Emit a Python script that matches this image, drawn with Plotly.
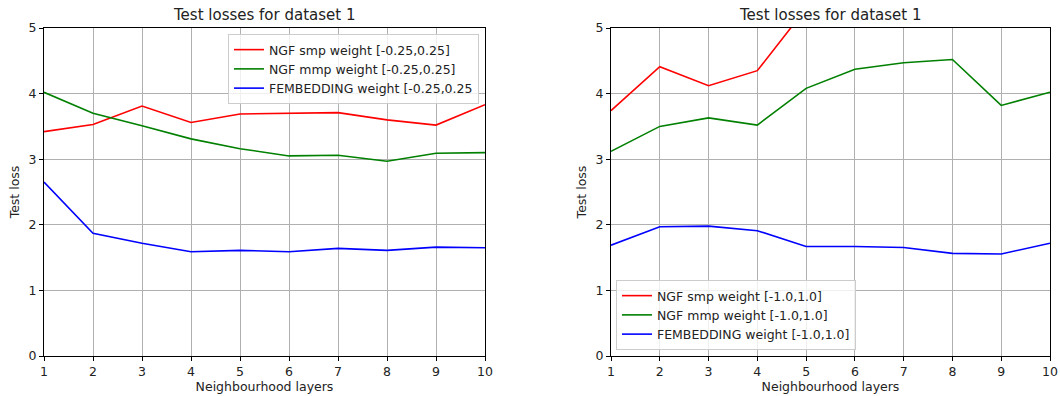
import plotly.graph_objects as go

layers = [1, 2, 3, 4, 5, 6, 7, 8, 9, 10]

# Left panel: weight range [-0.25, 0.25]
left_smp = [3.42, 3.53, 3.81, 3.56, 3.69, 3.70, 3.71, 3.60, 3.52, 3.83]
left_mmp = [4.02, 3.70, 3.51, 3.31, 3.16, 3.05, 3.06, 2.97, 3.09, 3.10]
left_femb = [2.65, 1.87, 1.72, 1.59, 1.61, 1.59, 1.64, 1.61, 1.66, 1.65]

# Right panel: weight range [-1.0, 1.0] (smp goes off-scale beyond layer 4)
right_smp = [3.74, 4.41, 4.12, 4.35, 5.30, 5.60, 5.80, 5.90, 5.70, 5.90]
right_mmp = [3.12, 3.50, 3.63, 3.52, 4.08, 4.37, 4.47, 4.52, 3.82, 4.02]
right_femb = [1.69, 1.97, 1.98, 1.91, 1.67, 1.67, 1.655, 1.565, 1.555, 1.72]

left_names = ["NGF smp weight [-0.25,0.25]", "NGF mmp weight [-0.25,0.25]",
              "FEMBEDDING weight [-0.25,0.25"]
right_names = ["NGF smp weight [-1.0,1.0]", "NGF mmp weight [-1.0,1.0]",
               "FEMBEDDING weight [-1.0,1.0]"]
colors = ["#ff0000", "#008000", "#0000ff"]

title = "Test losses for dataset 1"
xlabel = "Neighbourhood layers"
ylabel = "Test loss"

FONT = "DejaVu Sans"

fig = go.Figure()
for ys, name, c in zip([left_smp, left_mmp, left_femb], left_names, colors):
    fig.add_trace(go.Scatter(x=layers, y=ys, mode="lines", name=name,
                             line=dict(color=c, width=1.6),
                             xaxis="x", yaxis="y", legend="legend"))
for ys, name, c in zip([right_smp, right_mmp, right_femb], right_names, colors):
    fig.add_trace(go.Scatter(x=layers, y=ys, mode="lines", name=name,
                             line=dict(color=c, width=1.6),
                             xaxis="x2", yaxis="y2", legend="legend2"))

ydom = [40 / 396, 368 / 396]
axis_common = dict(showgrid=True, gridcolor="#b0b0b0", gridwidth=1,
                   showline=True, linecolor="black", linewidth=1, mirror=True,
                   ticks="outside", ticklen=4, tickcolor="black",
                   tickfont=dict(family=FONT, size=12.5, color="#222"),
                   zeroline=False, automargin=False)

fig.update_layout(
    width=1060, height=396,
    margin=dict(l=0, r=0, t=0, b=0, autoexpand=False),
    paper_bgcolor="white", plot_bgcolor="white",
    font=dict(family=FONT, size=12, color="#222"),
    xaxis=dict(domain=[44 / 1060, 485 / 1060], range=[1, 10], tickvals=layers,
               anchor="y",
               title=dict(text=xlabel, font=dict(family=FONT, size=12.5), standoff=4),
               **axis_common),
    yaxis=dict(domain=ydom, range=[0, 5], tickvals=[0, 1, 2, 3, 4, 5], anchor="x",
               title=dict(text=ylabel, font=dict(family=FONT, size=12.5), standoff=6),
               **axis_common),
    xaxis2=dict(domain=[611 / 1060, 1050 / 1060], range=[1, 10], tickvals=layers,
                anchor="y2",
                title=dict(text=xlabel, font=dict(family=FONT, size=12.5), standoff=4),
                **axis_common),
    yaxis2=dict(domain=ydom, range=[0, 5], tickvals=[0, 1, 2, 3, 4, 5], anchor="x2",
                title=dict(text=ylabel, font=dict(family=FONT, size=12.5), standoff=6),
                **axis_common),
    legend=dict(x=479 / 1060, y=(396 - 34) / 396, xanchor="right", yanchor="top",
                bgcolor="rgba(255,255,255,0.8)", bordercolor="#cccccc", borderwidth=1,
                font=dict(family=FONT, size=12.5, color="#222"), tracegroupgap=0),
    legend2=dict(x=616 / 1060, y=(396 - 350) / 396, xanchor="left", yanchor="bottom",
                 bgcolor="rgba(255,255,255,0.8)", bordercolor="#cccccc", borderwidth=1,
                 font=dict(family=FONT, size=12.5, color="#222"), tracegroupgap=0),
    annotations=[
        dict(text=title, x=(44 + 485) / 2 / 1060, y=(396 - 15) / 396,
             xref="paper", yref="paper", showarrow=False, xanchor="center",
             font=dict(family=FONT, size=15, color="#222"), yanchor="middle"),
        dict(text=title, x=(611 + 1050) / 2 / 1060, y=(396 - 15) / 396,
             xref="paper", yref="paper", showarrow=False, xanchor="center",
             font=dict(family=FONT, size=15, color="#222"), yanchor="middle"),
    ],
)

fig.write_html("out.html")
